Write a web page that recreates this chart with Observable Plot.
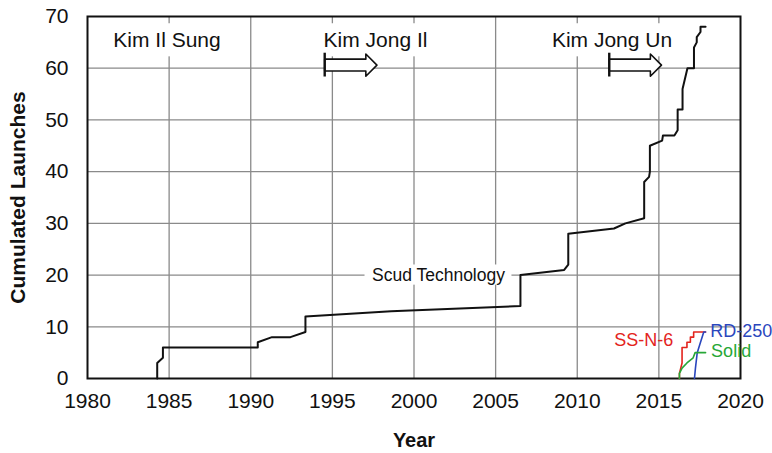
<!DOCTYPE html>
<html>
<head>
<meta charset="utf-8">
<script src="https://cdn.jsdelivr.net/npm/d3@7"></script>
<script src="https://cdn.jsdelivr.net/npm/@observablehq/plot@0.6"></script>
<style>
  html, body { margin: 0; padding: 0; background: #fff; }
  #chart { width: 772px; height: 453px; }
</style>
</head>
<body>
<div id="chart"></div>
<script>
// Cumulated North Korean missile launches (all types), by decimal year
const launchYears = [1984.27, 1984.27, 1984.62, 1984.62, 1990.43, 1990.43, 1991.3, 1992.43, 1993.35, 1993.35,
  1998.6, 2006.52, 2006.52, 2009.2, 2009.45, 2009.45, 2012.25, 2012.95, 2014.1, 2014.1,
  2014.4, 2014.45, 2014.45, 2015.2, 2015.25, 2015.95, 2016.15, 2016.15, 2016.45, 2016.45,
  2016.75, 2017.15, 2017.15, 2017.32, 2017.32, 2017.55, 2017.55, 2017.86];
const launchCounts = [0, 3, 4, 6, 6, 7, 8, 8, 9, 12,
  13, 14, 20, 21, 22, 28, 29, 30, 31, 38,
  39, 40, 45, 46, 47, 47, 48, 52, 52, 56,
  60, 60, 64, 65, 66, 67, 68, 68];

// Launches by engine technology (since 2016)
const ssn6Years  = [2016.26, 2016.26, 2016.42, 2016.42, 2016.72, 2016.72, 2016.93, 2016.93, 2017.13, 2017.13, 2017.86];
const ssn6Counts = [0, 1, 3, 6, 6, 7, 7, 8, 8, 9, 9];
const rd250Years  = [2017.18, 2017.24, 2017.35, 2017.55, 2017.75, 2017.86];
const rd250Counts = [0, 2, 5, 7, 9, 9];
const solidYears  = [2016.26, 2016.26, 2016.42, 2016.72, 2017.1, 2017.22, 2017.86];
const solidCounts = [0, 1, 2, 3, 4, 5, 5];

// Leaders and the year each came to power
const leaders = ["Kim Il Sung", "Kim Jong Il", "Kim Jong Un"];
const leaderStart = [null, 1994.53, 2011.96];

// Axis ticks
const xTicks = [1980, 1985, 1990, 1995, 2000, 2005, 2010, 2015, 2020];
const yTicks = [0, 10, 20, 30, 40, 50, 60, 70];

const zip = (xs, ys) => xs.map((x, i) => ({x, y: ys[i]}));
const total = zip(launchYears, launchCounts);
const series = [
  {name: "SS-N-6", color: "#e3241d", pts: zip(ssn6Years, ssn6Counts)},
  {name: "RD-250", color: "#2a46bd", pts: zip(rd250Years, rd250Counts)},
  {name: "Solid",  color: "#27a737", pts: zip(solidYears, solidCounts)}
];

// Leader labels along the top, each on a white plate
const labelY = 65.5;
const leaderLabels = [
  {name: leaders[0], x: 1984.87, hw: 3.6},
  {name: leaders[1], x: 1997.64, hw: 3.6},
  {name: leaders[2], x: 2012.13, hw: 4.0}
];
const plates = leaderLabels.map(d => ({x1: d.x - d.hw, x2: d.x + d.hw, y1: labelY - 3.3, y2: labelY + 3.1}));
plates.push({x1: 2001.5 - 4.5, x2: 2001.5 + 4.5, y1: 20 - 1.95, y2: 20 + 1.95});

// Hollow "in power from" arrows
const arrowY = 60.6, barHalf = 2.3, shaftHalf = 1.15, headHalf = 2.15, headLen = 0.68, arrowLen = 3.2;
const arrows = leaderStart.map((s, i) => ({name: leaders[i], start: s})).filter(d => d.start != null);
const arrowOutline = arrows.flatMap(({name, start: s}) => {
  const e = s + arrowLen, b = e - headLen;
  return [
    [s, arrowY + shaftHalf], [b, arrowY + shaftHalf], [b, arrowY + headHalf], [e, arrowY],
    [b, arrowY - headHalf], [b, arrowY - shaftHalf], [s, arrowY - shaftHalf], [s, arrowY + shaftHalf]
  ].map(([x, y]) => ({name, x, y}));
});

const font = "'Liberation Sans', Arial, Helvetica, sans-serif";

const chart = Plot.plot({
  width: 772,
  height: 453,
  marginLeft: 87,
  marginRight: 32,
  marginTop: 16,
  marginBottom: 75,
  style: {fontFamily: font, fontSize: "21px", color: "#111", background: "#fff"},
  x: {domain: [1980, 2020], ticks: xTicks, tickSize: 0, tickPadding: 15, tickFormat: d => String(d), label: null},
  y: {domain: [0, 70], ticks: yTicks, tickSize: 0, tickPadding: 19, label: null},
  marks: [
    Plot.ruleX(xTicks.slice(1, -1), {stroke: "#8a8a8a", strokeWidth: 1.3}),
    Plot.ruleY(yTicks.slice(1, -1), {stroke: "#8a8a8a", strokeWidth: 1.3}),
    Plot.rect(plates, {x1: "x1", x2: "x2", y1: "y1", y2: "y2", fill: "white"}),
    Plot.frame({stroke: "#111", strokeWidth: 2}),
    Plot.line(total, {x: "x", y: "y", stroke: "#111", strokeWidth: 2}),
    ...series.map(s => Plot.line(s.pts, {x: "x", y: "y", stroke: s.color, strokeWidth: 1.6})),
    Plot.line(arrowOutline, {x: "x", y: "y", z: "name", fill: "white", stroke: "#111", strokeWidth: 1.6}),
    Plot.ruleX(arrows, {x: "start", y1: arrowY - barHalf, y2: arrowY + barHalf, stroke: "#111", strokeWidth: 2.4}),
    Plot.text(leaderLabels, {x: "x", y: labelY, text: "name", fontSize: 21, fill: "#111"}),
    Plot.text(["Scud Technology"], {x: 2001.5, y: 20, fontSize: 17.5, fill: "#111"}),
    Plot.text(["SS-N-6"], {x: 2015.88, y: 7.4, textAnchor: "end", fontSize: 18, fill: series[0].color}),
    Plot.text(["RD-250"], {x: 2018.15, y: 9.2, textAnchor: "start", fontSize: 18, fill: series[1].color}),
    Plot.text(["Solid"], {x: 2018.2, y: 5.3, textAnchor: "start", fontSize: 18, fill: series[2].color}),
    Plot.text(["Year"], {frameAnchor: "bottom", dy: 68, fontSize: 20, fontWeight: "bold", fill: "#111"}),
    Plot.text(["Cumulated Launches"], {frameAnchor: "left", textAnchor: "middle", dx: -69, rotate: -90, fontSize: 21, fontWeight: "bold", fill: "#111"})
  ]
});

document.getElementById("chart").appendChild(chart);
</script>
</body>
</html>
